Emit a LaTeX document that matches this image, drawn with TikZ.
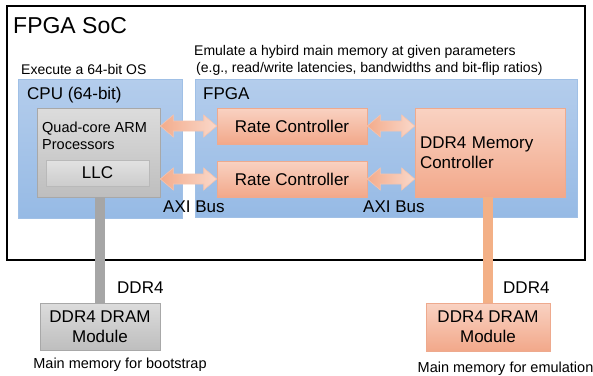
\documentclass[tikz,border=0pt]{standalone}
\usepackage{fontspec}
\setmainfont{Liberation Sans}
\usetikzlibrary{calc}
\definecolor{blueTop}{RGB}{180,205,236}
\definecolor{blueBot}{RGB}{150,186,229}
\definecolor{blueLine}{RGB}{160,192,230}
\definecolor{grayTop}{RGB}{220,220,220}
\definecolor{grayBot}{RGB}{190,190,190}
\definecolor{grayLine}{RGB}{168,168,168}
\definecolor{llcTop}{RGB}{226,226,226}
\definecolor{llcBot}{RGB}{204,204,204}
\definecolor{orTop}{RGB}{249,210,194}
\definecolor{orBot}{RGB}{242,168,138}
\definecolor{orLine}{RGB}{238,170,142}
\definecolor{arrL}{RGB}{243,172,140}
\definecolor{arrR}{RGB}{250,216,202}
\definecolor{arrB}{RGB}{246,196,174}
\definecolor{barGray}{RGB}{166,166,166}
\definecolor{barOr}{RGB}{243,176,134}
\newcommand{\myHuge}{\fontsize{23}{27}\selectfont}
\newcommand{\myMid}{\fontsize{17}{20}\selectfont}
\newcommand{\mySmall}{\fontsize{14}{17}\selectfont}
\newcommand{\myQuad}{\fontsize{14.5}{17}\selectfont}
\newcommand{\fatarrow}[2]{%
  \shadedraw[left color=arrL, right color=arrR, draw=arrB, line width=0.6pt]
    (#1) -- ($(#1)+(13,-11)$) -- ($(#1)+(13,-5)$) -- ($(#2)+(-13,-5)$)
    -- ($(#2)+(-13,-11)$) -- (#2) -- ($(#2)+(-13,11)$) -- ($(#2)+(-13,5)$)
    -- ($(#1)+(13,5)$) -- ($(#1)+(13,11)$) -- cycle;}
\tikzset{
  box/.style={rectangle, inner sep=0pt, line width=0.6pt},
  blueBox/.style={box, top color=blueTop, bottom color=blueBot, draw=blueLine},
  grayBox/.style={box, top color=grayTop, bottom color=grayBot, draw=grayLine},
  llcBox/.style={box, top color=llcTop, bottom color=llcBot, draw=grayLine!80},
  orBox/.style={box, top color=orTop, bottom color=orBot, draw=orLine},
  lbl/.style={inner sep=0pt, anchor=base west},
  bus/.style={line width=10pt}
}
\begin{document}
\begin{tikzpicture}[x=1pt, y=-1pt]
\useasboundingbox[fill=white] (0,0) rectangle (593,375);
% outer SoC box
\node[box, draw=black, line width=1.2pt, minimum width=578pt, minimum height=254pt] (soc) at (296,133) {};
\node[lbl, font=\myHuge] (soctxt) at (13,33.3) {FPGA SoC};
\node[lbl, font=\mySmall] (exec) at (21,74) {Execute a 64-bit OS};
\node[lbl, font=\mySmall] (emu1) at (194,55) {Emulate a hybird main memory at given parameters};
\node[lbl, font=\mySmall] (emu2) at (196,72.5) {(e.g., read/write latencies, bandwidths and bit-flip ratios)};
% CPU and FPGA regions
\node[blueBox, minimum width=164pt, minimum height=139pt] (cpu) at (100,148.5) {};
\node[blueBox, minimum width=382pt, minimum height=138pt] (fpga) at (386,148) {};
\node[lbl, font=\myMid] (cputxt) at (27,99) {CPU (64-bit)};
\node[lbl, font=\myMid] (fpgatxt) at (203,99) {FPGA};
% processors
\node[grayBox, minimum width=123pt, minimum height=89pt] (quad) at (98.5,152.5) {};
\node[inner sep=0pt, anchor=west, align=left, font=\myQuad] (quadtxt) at (42,135.5) {Quad-core ARM\\Processors};
\node[llcBox, minimum width=103pt, minimum height=26pt, font=\myMid] (llc) at (97.5,173) {LLC};
% rate controllers and memory controller
\node[orBox, minimum width=150pt, minimum height=36pt, font=\myMid] (rc1) at (292,126) {Rate Controller};
\node[orBox, minimum width=150pt, minimum height=36pt, font=\myMid] (rc2) at (292,179) {Rate Controller};
\node[orBox, minimum width=150pt, minimum height=89pt, text width=140pt, inner xsep=5pt, align=left, font=\myMid] (mc) at (490,152.5) {DDR4 Memory\\Controller};
% AXI arrows
\fatarrow{quad.east |- rc1.west}{rc1.west}
\fatarrow{quad.east |- rc2.west}{rc2.west}
\fatarrow{rc1.east}{mc.west |- rc1.east}
\fatarrow{rc2.east}{mc.west |- rc2.east}
\node[lbl, font=\myMid] (axi1) at (163,212) {AXI Bus};
\node[lbl, font=\myMid] (axi2) at (363,212) {AXI Bus};
% DRAM modules
\node[grayBox, minimum width=120pt, minimum height=47pt, align=center, font=\myMid] (mod1) at (100,326.5) {DDR4 DRAM\\Module};
\node[orBox, minimum width=124pt, minimum height=48pt, align=center, font=\myMid] (mod2) at (488,327) {DDR4 DRAM\\Module};
\draw[bus, barGray] (mod1.north) -- (mod1.north |- quad.south);
\draw[bus, barOr] (mod2.north) -- (mod2.north |- mc.south);
\node[lbl, font=\myMid] (ddr1) at (117,293) {DDR4};
\node[lbl, font=\myMid] (ddr2) at (503,293) {DDR4};
\node[inner sep=0pt, anchor=base, font=\myQuad] (cap1) at (120,368) {Main memory for bootstrap};
\node[inner sep=0pt, anchor=base, font=\myQuad] (cap2) at (505.5,372) {Main memory for emulation};
\end{tikzpicture}
\end{document}
